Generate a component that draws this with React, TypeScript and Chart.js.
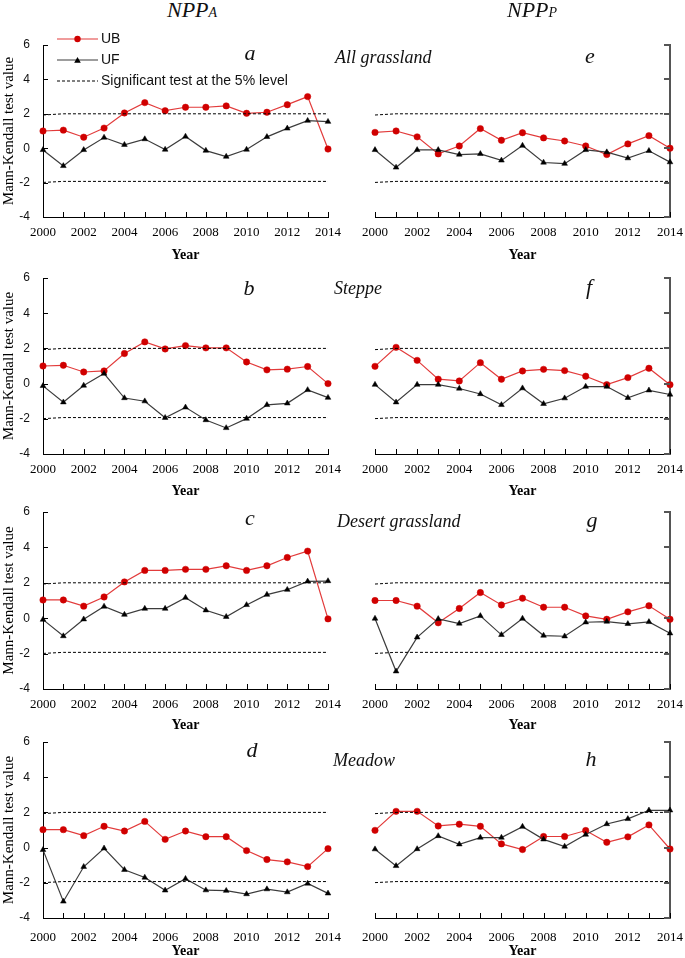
import React, { useEffect, useRef } from "react";
import { Chart, registerables } from "chart.js";
Chart.register(...registerables);

const years = [2000, 2001, 2002, 2003, 2004, 2005, 2006, 2007, 2008, 2009, 2010, 2011, 2012, 2013, 2014];
const xTickLabels = ["2000", "2002", "2004", "2006", "2008", "2010", "2012", "2014"];
const yTickValues = [-4, -2, 0, 2, 4, 6];
const legendLabels = ["UB", "UF", "Significant test at the 5% level"];

const sigUpper = [1.93, 2.0, 2.0, 2.0, 2.0, 2.0, 2.0, 2.0, 2.0, 2.0, 2.0, 2.0, 2.0, 2.0, 2.0];
const sigLower = [-1.99, -1.93, -1.93, -1.93, -1.93, -1.93, -1.93, -1.93, -1.93, -1.93, -1.93, -1.93, -1.93, -1.93, -1.93];

// NPP_A panels (left column)
const ubA = [1.0, 1.05, 0.64, 1.17, 2.05, 2.65, 2.18, 2.38, 2.38, 2.46, 2.03, 2.09, 2.53, 3.0, -0.05];
const ufA = [-0.1, -1.03, -0.1, 0.62, 0.2, 0.53, -0.08, 0.68, -0.14, -0.49, -0.08, 0.66, 1.15, 1.6, 1.54];
const ubB = [1.0, 1.04, 0.66, 0.72, 1.71, 2.37, 1.97, 2.16, 2.03, 2.03, 1.23, 0.78, 0.82, 0.97, 0.0];
const ufB = [-0.13, -1.06, -0.11, 0.57, -0.82, -1.0, -1.94, -1.35, -2.07, -2.52, -1.99, -1.21, -1.12, -0.36, -0.8];
const ubC = [1.03, 1.03, 0.68, 1.2, 2.05, 2.7, 2.7, 2.76, 2.76, 2.96, 2.7, 2.96, 3.43, 3.79, -0.04];
const ufC = [-0.08, -1.01, -0.06, 0.66, 0.2, 0.54, 0.54, 1.16, 0.45, 0.08, 0.75, 1.33, 1.61, 2.08, 2.1];
const ubD = [1.02, 1.02, 0.68, 1.21, 0.94, 1.49, 0.47, 0.94, 0.62, 0.62, -0.17, -0.68, -0.81, -1.08, -0.06];
const ufD = [-0.13, -3.06, -1.09, -0.04, -1.26, -1.7, -2.43, -1.77, -2.42, -2.45, -2.64, -2.36, -2.53, -2.04, -2.6];

// NPP_P panels (right column)
const ubE = [0.92, 1.0, 0.66, -0.33, 0.13, 1.14, 0.46, 0.9, 0.6, 0.42, 0.13, -0.37, 0.25, 0.73, 0.0];
const ufE = [-0.1, -1.12, -0.1, -0.1, -0.37, -0.33, -0.71, 0.15, -0.83, -0.9, -0.1, -0.23, -0.58, -0.15, -0.81];
const ubF = [0.98, 2.06, 1.32, 0.25, 0.15, 1.19, 0.25, 0.72, 0.81, 0.74, 0.42, -0.06, 0.34, 0.87, -0.06];
const ufF = [-0.06, -1.06, -0.06, -0.06, -0.28, -0.59, -1.21, -0.26, -1.15, -0.83, -0.17, -0.17, -0.81, -0.38, -0.62];
const ubG = [1.0, 1.0, 0.68, -0.26, 0.55, 1.45, 0.75, 1.13, 0.62, 0.62, 0.13, -0.06, 0.36, 0.7, -0.06];
const ufG = [-0.02, -3.0, -1.08, -0.04, -0.3, 0.13, -0.94, -0.02, -0.98, -1.02, -0.23, -0.19, -0.32, -0.21, -0.85];
const ubH = [0.98, 2.06, 2.06, 1.23, 1.33, 1.21, 0.21, -0.11, 0.63, 0.63, 0.97, 0.3, 0.61, 1.29, -0.08];
const ufH = [-0.09, -1.04, -0.08, 0.66, 0.19, 0.57, 0.57, 1.19, 0.47, 0.06, 0.74, 1.34, 1.63, 2.12, 2.12];

const UB_LINE = "#e23b3b";
const UB_POINT = "#d00000";
const UF_LINE = "#3c3c3c";
const UF_POINT = "#000000";

type RowLayout = { plotTop: number; plotBottom: number; tickPad: number; xAxisH: number; titlePad: number };
const rowLayouts: RowLayout[] = [
  { plotTop: 45, plotBottom: 217, tickPad: 0, xAxisH: 46, titlePad: 1 },
  { plotTop: 278, plotBottom: 454, tickPad: 0, xAxisH: 45, titlePad: 1 },
  { plotTop: 512, plotBottom: 689, tickPad: 0, xAxisH: 44, titlePad: 1 },
  { plotTop: 742, plotBottom: 918, tickPad: 4, xAxisH: 40, titlePad: 0 },
];
const PAD_TOP = 20;

function drawTriangle(ctx: CanvasRenderingContext2D, x: number, y: number, r: number) {
  ctx.beginPath();
  for (let k = 0; k < 3; k++) {
    const a = (k * 2 * Math.PI) / 3;
    const px = x + Math.sin(a) * r * 1.15;
    const py = y - Math.cos(a) * r * 1.15 + r * 0.25;
    if (k === 0) ctx.moveTo(px, py);
    else ctx.lineTo(px, py);
  }
  ctx.closePath();
  ctx.fill();
}

const innerTicks = {
  id: "innerTicks",
  afterDraw(chart: any) {
    const ctx = chart.ctx as CanvasRenderingContext2D;
    const xs = chart.scales.x;
    const ys = chart.scales.y;
    const area = chart.chartArea;
    ctx.save();
    ctx.strokeStyle = "#000";
    ctx.lineWidth = 1;
    xs.ticks.forEach((t: any) => {
      const px = Math.round(xs.getPixelForValue(t.value)) + 0.5;
      ctx.beginPath();
      ctx.moveTo(px, area.bottom);
      ctx.lineTo(px, area.bottom - 5);
      ctx.stroke();
    });
    const isLeft = ys.position === "left";
    ctx.strokeStyle = isLeft ? "#000" : "#555";
    ctx.lineWidth = isLeft ? 1 : 2;
    ys.ticks.forEach((t: any) => {
      const py = Math.round(ys.getPixelForValue(t.value)) + (isLeft ? 0.5 : 0);
      const bx = isLeft ? area.left : area.right;
      ctx.beginPath();
      ctx.moveTo(bx, py);
      ctx.lineTo(isLeft ? bx + 5 : bx - 6, py);
      ctx.stroke();
    });
    ctx.restore();
  },
};

const legendPlugin = {
  id: "mkLegend",
  afterDraw(chart: any) {
    const ctx = chart.ctx as CanvasRenderingContext2D;
    const area = chart.chartArea;
    const x0 = area.left + 14;
    const x1 = area.left + 55;
    const xm = (x0 + x1) / 2;
    const tx = area.left + 58;
    const ys = [area.top - 6, area.top + 15, area.top + 36];
    ctx.save();
    // UB
    ctx.strokeStyle = UB_LINE;
    ctx.lineWidth = 1.2;
    ctx.beginPath();
    ctx.moveTo(x0, ys[0]);
    ctx.lineTo(x1, ys[0]);
    ctx.stroke();
    ctx.fillStyle = UB_POINT;
    ctx.beginPath();
    ctx.arc(xm, ys[0], 3.2, 0, Math.PI * 2);
    ctx.fill();
    // UF
    ctx.strokeStyle = UF_LINE;
    ctx.beginPath();
    ctx.moveTo(x0, ys[1]);
    ctx.lineTo(x1, ys[1]);
    ctx.stroke();
    ctx.fillStyle = UF_POINT;
    drawTriangle(ctx, xm, ys[1], 3.3);
    // dashed
    ctx.strokeStyle = "#000";
    ctx.lineWidth = 1;
    ctx.setLineDash([3, 2]);
    ctx.beginPath();
    ctx.moveTo(x0, ys[2]);
    ctx.lineTo(x1, ys[2]);
    ctx.stroke();
    ctx.setLineDash([]);
    ctx.fillStyle = "#111";
    ctx.font = "14px 'Liberation Sans'";
    ctx.textBaseline = "middle";
    ctx.textAlign = "left";
    legendLabels.forEach((l, i) => ctx.fillText(l, tx, ys[i] + 0.5));
    ctx.restore();
  },
};

type PanelProps = { ub: number[]; uf: number[]; col: number; row: number; legend?: boolean };

function Panel({ ub, uf, col, row, legend }: PanelProps) {
  const ref = useRef<HTMLCanvasElement>(null);
  const lay = rowLayouts[row];
  const isLeft = col === 0;
  const width = 345;
  const left = isLeft ? 0 : 340;
  const height = PAD_TOP + (lay.plotBottom - lay.plotTop) + lay.xAxisH;
  const top = lay.plotTop - PAD_TOP;

  useEffect(() => {
    const canvas = ref.current!;
    const toPts = (arr: number[]) => years.map((y, i) => ({ x: y, y: arr[i] }));
    const chart = new Chart(canvas, {
      type: "line",
      data: {
        datasets: [
          {
            label: "sigUpper",
            data: toPts(sigUpper),
            borderColor: "#000",
            borderWidth: 1,
            borderDash: [3, 2],
            pointRadius: 0,
            fill: false,
          },
          {
            label: "sigLower",
            data: toPts(sigLower),
            borderColor: "#000",
            borderWidth: 1,
            borderDash: [3, 2],
            pointRadius: 0,
            fill: false,
          },
          {
            label: legendLabels[1],
            data: toPts(uf),
            borderColor: UF_LINE,
            borderWidth: 1.2,
            pointStyle: "triangle",
            pointRadius: 3.3,
            pointBackgroundColor: UF_POINT,
            pointBorderColor: UF_POINT,
            pointBorderWidth: 0.5,
            fill: false,
            clip: false as any,
          },
          {
            label: legendLabels[0],
            data: toPts(ub),
            borderColor: UB_LINE,
            borderWidth: 1.2,
            pointStyle: "circle",
            pointRadius: 3.2,
            pointBackgroundColor: UB_POINT,
            pointBorderColor: UB_POINT,
            pointBorderWidth: 0.5,
            fill: false,
            clip: false as any,
          },
        ],
      },
      options: {
        animation: false,
        responsive: false,
        maintainAspectRatio: false,
        devicePixelRatio: 1,
        layout: { padding: { top: PAD_TOP, left: isLeft ? 0 : 35, right: isLeft ? 17 : 0, bottom: 0 } },
        plugins: { legend: { display: false }, tooltip: { enabled: false } },
        elements: { line: { tension: 0 } },
        scales: {
          x: {
            type: "linear",
            position: "bottom",
            min: 2000,
            max: 2014,
            afterBuildTicks: (s: any) => {
              s.ticks = years.map((v) => ({ value: v }));
            },
            afterFit: (s: any) => {
              s.height = lay.xAxisH;
              s.paddingLeft = 0;
              s.paddingRight = 0;
              s.paddingTop = 0;
              s.paddingBottom = 0;
            },
            grid: { display: false },
            border: { display: true, color: "#000", width: 1 },
            ticks: {
              autoSkip: false,
              maxRotation: 0,
              minRotation: 0,
              padding: lay.tickPad,
              color: "#000",
              font: { family: "'Liberation Serif'", size: 13 },
              callback: (v: any) => (xTickLabels.includes(String(v)) ? String(v) : ""),
            },
            title: {
              display: true,
              text: "Year",
              color: "#000",
              font: { family: "'Liberation Serif'", size: 14, weight: "bold", lineHeight: 1 },
              padding: { top: 0, bottom: lay.titlePad },
            },
          },
          y: {
            type: "linear",
            position: isLeft ? "left" : "right",
            min: -4,
            max: 6,
            afterBuildTicks: (s: any) => {
              s.ticks = yTickValues.map((v) => ({ value: v }));
            },
            afterFit: (s: any) => {
              s.width = isLeft ? 43 : 15;
              s.paddingTop = 0;
              s.paddingBottom = 0;
              s.paddingLeft = 0;
              s.paddingRight = 0;
            },
            grid: { display: false },
            border: { display: true, color: isLeft ? "#000" : "#555", width: isLeft ? 1 : 2 },
            ticks: {
              display: isLeft,
              padding: 5,
              color: "#111",
              font: { family: "'Liberation Sans'", size: 12 },
              callback: (v: any) => String(v),
            },
            title: {
              display: isLeft,
              text: "Mann-Kendall test value",
              color: "#000",
              font: { family: "'Liberation Serif'", size: 15 },
              padding: { top: 0, bottom: 0 },
            },
          },
        },
      } as any,
      plugins: legend ? [innerTicks, legendPlugin] : [innerTicks],
    });
    return () => chart.destroy();
  }, []);

  return (
    <canvas
      ref={ref}
      width={width}
      height={height}
      style={{ position: "absolute", left, top, width, height, display: "block" }}
    />
  );
}

const serifItalic: React.CSSProperties = {
  position: "absolute",
  fontFamily: "'Liberation Serif', serif",
  fontStyle: "italic",
  lineHeight: 1,
  whiteSpace: "nowrap",
  color: "#111",
};

function Letter({ text, cx, top }: { text: string; cx: number; top: number }) {
  return (
    <div style={{ ...serifItalic, fontSize: 22, left: cx, top, transform: "translateX(-50%)" }}>{text}</div>
  );
}

function Region({ text, left, top }: { text: string; left: number; top: number }) {
  return <div style={{ ...serifItalic, fontSize: 18, left, top }}>{text}</div>;
}

export default function App() {
  return (
    <div
      style={{
        position: "fixed",
        left: 0,
        top: 0,
        width: 685,
        height: 958,
        overflow: "hidden",
        background: "#fff",
      }}
    >
      <Panel ub={ubA} uf={ufA} col={0} row={0} legend />
      <Panel ub={ubB} uf={ufB} col={0} row={1} />
      <Panel ub={ubC} uf={ufC} col={0} row={2} />
      <Panel ub={ubD} uf={ufD} col={0} row={3} />
      <Panel ub={ubE} uf={ufE} col={1} row={0} />
      <Panel ub={ubF} uf={ufF} col={1} row={1} />
      <Panel ub={ubG} uf={ufG} col={1} row={2} />
      <Panel ub={ubH} uf={ufH} col={1} row={3} />

      <div style={{ ...serifItalic, fontSize: 22, left: 167, top: -1 }}>
        NPP<span style={{ fontSize: 14 }}>A</span>
      </div>
      <div style={{ ...serifItalic, fontSize: 22, left: 507, top: -1 }}>
        NPP<span style={{ fontSize: 14 }}>P</span>
      </div>

      <Letter text="a" cx={250} top={42} />
      <Letter text="e" cx={590} top={45} />
      <Letter text="b" cx={249} top={277} />
      <Letter text="f" cx={589} top={276} />
      <Letter text="c" cx={250} top={507} />
      <Letter text="g" cx={592} top={509} />
      <Letter text="d" cx={252} top={739} />
      <Letter text="h" cx={591} top={748} />

      <Region text="All grassland" left={335} top={48} />
      <Region text="Steppe" left={334} top={279} />
      <Region text="Desert grassland" left={337} top={512} />
      <Region text="Meadow" left={333} top={751} />
    </div>
  );
}
